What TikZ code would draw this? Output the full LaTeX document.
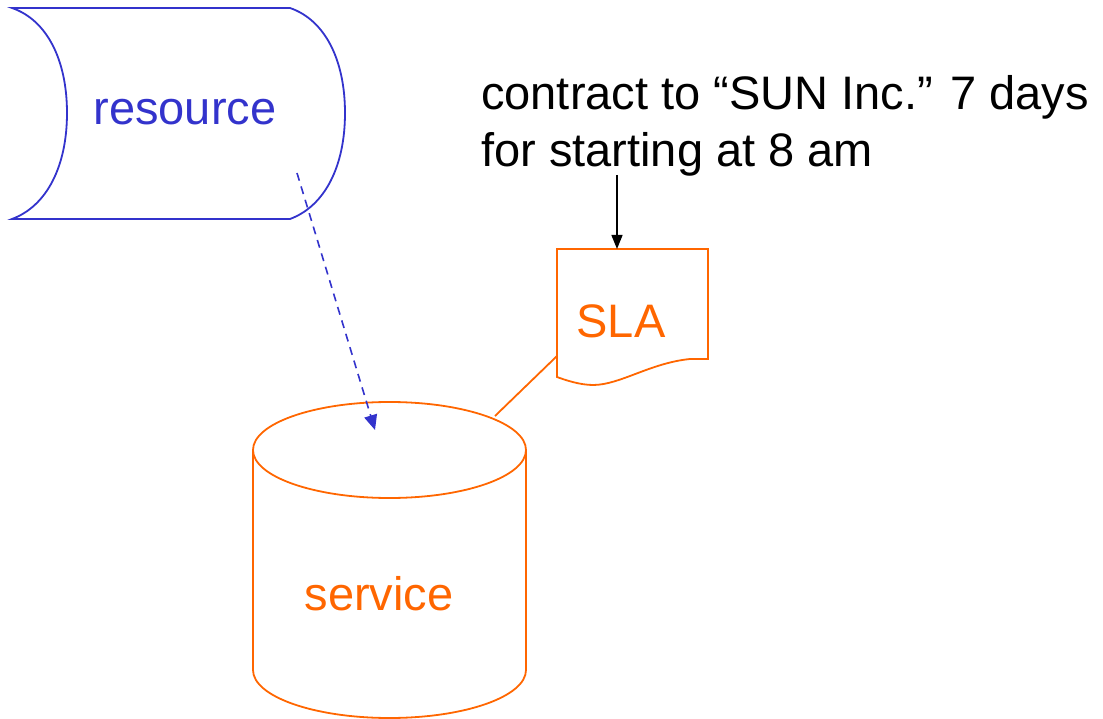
\documentclass[tikz,border=0pt]{standalone}
\usepackage{fontspec}
\setmainfont{Liberation Sans}
\usetikzlibrary{arrows.meta}
\definecolor{rblue}{HTML}{3333CC}
\definecolor{sorange}{HTML}{FF6600}
\begin{document}
\begin{tikzpicture}[x=1pt,y=-1pt,
  bigtext/.style={font=\fontsize{47}{57}\selectfont, inner sep=0pt},
  rshape/.style={draw=rblue, line width=1.8pt},
  oshape/.style={draw=sorange, line width=1.8pt},
  dasharrow/.style={draw=rblue, line width=1.6pt, dash pattern=on 8pt off 6pt, -{Triangle[length=15pt,width=13pt]}},
  notearrow/.style={draw=black, line width=1.4pt, -{Triangle[length=14pt,width=11pt]}}]
\useasboundingbox (0,0) rectangle (1103,719);
% resource (stored data shape)
\draw[rshape] (12,8) -- (290,8)
  .. controls (325,20) and (345,60) .. (345,113)
  .. controls (345,166) and (325,206) .. (290,219)
  -- (12,219)
  .. controls (47,206) and (67,166) .. (67,113)
  .. controls (67,60) and (47,20) .. (12,8) -- cycle;
\node[bigtext, text=rblue] (res) at (185,112) {resource};
% service cylinder
\draw[oshape] (253,450) -- (253,670) arc[start angle=180,end angle=0,x radius=136.5,y radius=48] -- (526,450);
\draw[oshape] (389.5,450) ellipse[x radius=136.5,y radius=48];
\node[bigtext, text=sorange] (srv) at (379,594) {service};
% SLA document
\draw[oshape] (557,249) -- (708,249) -- (708,359) -- (690,359)
  .. controls (650,363) and (620,385) .. (593,385)
  .. controls (580,385) and (565,380) .. (557,377) -- cycle;
\node[bigtext, text=sorange] (sla) at (621,321) {SLA};
% note text
\node[bigtext, anchor=base west] (note1) at (481,110) {contract to “SUN Inc.” 7 days};
\node[bigtext, anchor=base west] (note2) at (481,167) {for starting at 8 am};
% connectors
\coordinate (rstart) at (297,173);
\coordinate (sstop) at (375,430);
\draw[dasharrow] (rstart) -- (sstop);
\coordinate (nstart) at (617,175);
\coordinate (slatop) at (617,249);
\draw[notearrow] (nstart) -- (slatop);
\coordinate (slaleft) at (557,356);
\coordinate (srvtop) at (495,416);
\draw[oshape] (slaleft) -- (srvtop);
\end{tikzpicture}
\end{document}
